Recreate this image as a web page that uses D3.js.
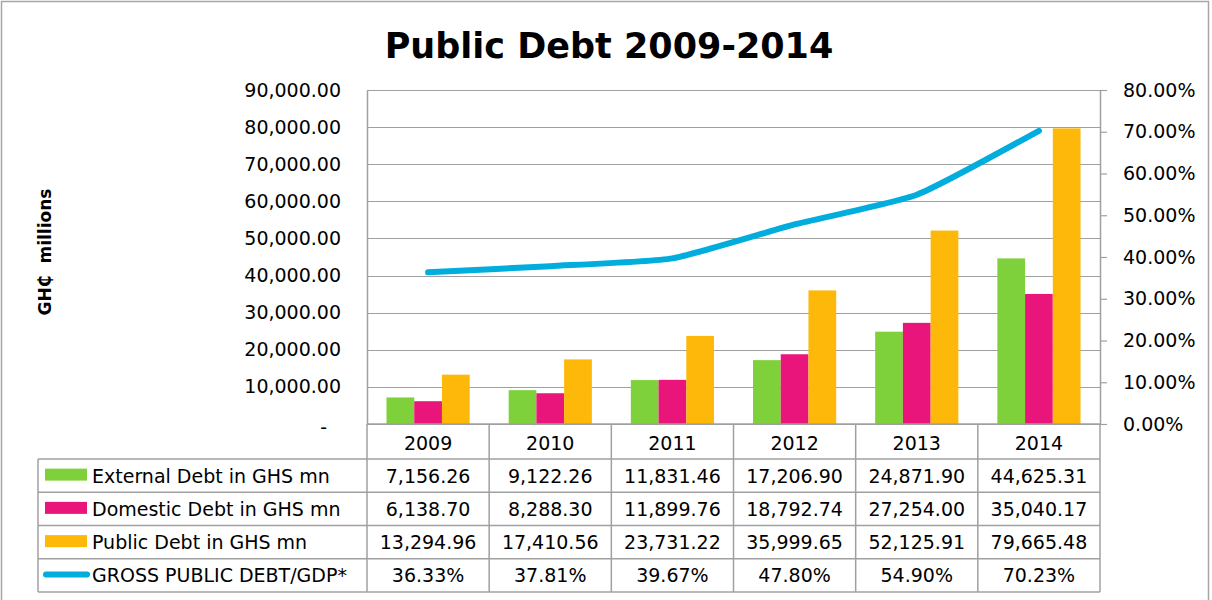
<!DOCTYPE html>
<html>
<head>
<meta charset="utf-8">
<script src="https://cdn.jsdelivr.net/npm/d3@7"></script>
<style>
  body { margin: 0; background: #fff; }
  svg text { font-family: "DejaVu Sans", sans-serif; fill: #000; }
</style>
</head>
<body>
<div id="chart"></div>
<script>
// Chart data
const years = ["2009", "2010", "2011", "2012", "2013", "2014"];
const externalDebt = [7156.26, 9122.26, 11831.46, 17206.90, 24871.90, 44625.31];
const domesticDebt = [6138.70, 8288.30, 11899.76, 18792.74, 27254.00, 35040.17];
const publicDebt = [13294.96, 17410.56, 23731.22, 35999.65, 52125.91, 79665.48];
const debtToGdp = [0.3633, 0.3781, 0.3967, 0.4780, 0.5490, 0.7023];
const seriesNames = ["External Debt in GHS mn", "Domestic Debt in GHS mn", "Public Debt in GHS mn", "GROSS PUBLIC DEBT/GDP*"];
const leftTicks = [0, 10000, 20000, 30000, 40000, 50000, 60000, 70000, 80000, 90000];
const rightTicks = [0, 0.1, 0.2, 0.3, 0.4, 0.5, 0.6, 0.7, 0.8];

const colors = ["#7fd13b", "#ea157a", "#feb80a", "#00addc"];
const gridColor = "#a0a0a0";

// Layout
const width = 1212;
const height = 600;
const plot = { left: 367, right: 1100, top: 90, bottom: 424 };
const table = { left: 38, headerBottom: 459, bottom: 592 };

const svg = d3.select("#chart")
  .append("svg")
  .attr("width", width)
  .attr("height", height);

// Outer frame
svg.append("rect")
  .attr("x", 1.5).attr("y", 1.5)
  .attr("width", 1207).attr("height", 620)
  .attr("fill", "none")
  .attr("stroke", "#a6a6a6")
  .attr("stroke-width", 1.5);

// Scales
const x = d3.scaleBand().domain(years).range([plot.left, plot.right]).padding(0);
const xInner = d3.scaleBand().domain([0, 1, 2]).range([19.5, 102.7]).padding(0);
const y = d3.scaleLinear().domain([0, 90000]).range([plot.bottom, plot.top]);
const y2 = d3.scaleLinear().domain([0, 0.8]).range([plot.bottom, plot.top]);

// Gridlines
svg.append("g")
  .selectAll("line")
  .data(leftTicks)
  .enter()
  .append("line")
  .attr("x1", plot.left)
  .attr("x2", plot.right)
  .attr("y1", d => Math.round(y(d)) + 0.5)
  .attr("y2", d => Math.round(y(d)) + 0.5)
  .attr("stroke", gridColor)
  .attr("stroke-width", 1.2);

// Left axis
const fmtNum = d3.format(",.2f");
const leftAxis = svg.append("g")
  .attr("transform", `translate(${plot.left},0)`)
  .call(d3.axisLeft(y)
    .tickValues(leftTicks)
    .tickSize(0)
    .tickSizeOuter(0)
    .tickPadding(26)
    .tickFormat(d => d === 0 ? "-" : fmtNum(d)));
leftAxis.select(".domain").attr("stroke", gridColor).attr("stroke-width", 1.5);
leftAxis.selectAll("text")
  .attr("font-size", "19px")
  .attr("font-family", "DejaVu Sans")
  .attr("fill", "#000");
leftAxis.selectAll(".tick text").filter(d => d === 0).attr("x", -40).attr("dy", "0.5em");

// Right axis
const rightAxis = svg.append("g")
  .attr("transform", `translate(${plot.right},0)`)
  .call(d3.axisRight(y2)
    .tickValues(rightTicks)
    .tickSize(7)
    .tickSizeOuter(0)
    .tickPadding(16)
    .tickFormat(d3.format(".2%")));
rightAxis.select(".domain").attr("stroke", gridColor).attr("stroke-width", 1.5);
rightAxis.selectAll(".tick line").attr("stroke", gridColor).attr("stroke-width", 1.2);
rightAxis.selectAll("text")
  .attr("font-size", "19px")
  .attr("font-family", "DejaVu Sans")
  .attr("fill", "#000");

// Bars
const barSeries = [externalDebt, domesticDebt, publicDebt];
barSeries.forEach((values, s) => {
  svg.append("g")
    .selectAll("rect")
    .data(values)
    .enter()
    .append("rect")
    .attr("x", (d, i) => x(years[i]) + xInner(s))
    .attr("y", d => y(d))
    .attr("width", xInner.bandwidth())
    .attr("height", d => plot.bottom - y(d))
    .attr("fill", colors[s]);
});

// Debt / GDP line (lightly smoothed)
const line = d3.line()
  .x((d, i) => x(years[i]) + x.bandwidth() / 2)
  .y(d => y2(d))
  .curve(d3.curveCardinal.tension(0.5));

svg.append("path")
  .datum(debtToGdp)
  .attr("d", line)
  .attr("fill", "none")
  .attr("stroke", colors[3])
  .attr("stroke-width", 6)
  .attr("stroke-linecap", "round")
  .attr("stroke-linejoin", "round");

// Data table
const rowH = (table.bottom - table.headerBottom) / seriesNames.length;
const tableLines = svg.append("g").attr("stroke", gridColor).attr("stroke-width", 1.5);

// column separators
d3.range(years.length + 1).forEach(i => {
  const xx = plot.left + i * x.bandwidth();
  tableLines.append("line")
    .attr("x1", xx).attr("x2", xx)
    .attr("y1", plot.bottom).attr("y2", table.bottom);
});
// row separators
d3.range(seriesNames.length + 1).forEach(r => {
  const yy = table.headerBottom + r * rowH;
  tableLines.append("line")
    .attr("x1", table.left).attr("x2", plot.right)
    .attr("y1", yy).attr("y2", yy);
});
tableLines.append("line")
  .attr("x1", table.left).attr("x2", table.left)
  .attr("y1", table.headerBottom).attr("y2", table.bottom);
tableLines.append("line")
  .attr("x1", plot.left).attr("x2", plot.right)
  .attr("y1", plot.bottom).attr("y2", plot.bottom);

// year header
svg.append("g")
  .selectAll("text")
  .data(years)
  .enter()
  .append("text")
  .attr("x", d => x(d) + x.bandwidth() / 2)
  .attr("y", (plot.bottom + table.headerBottom) / 2 + 8)
  .attr("text-anchor", "middle")
  .attr("font-size", "19px")
  .text(d => d);

// table rows
const fmtPct = d3.format(".2%");
const rowValues = [
  externalDebt.map(fmtNum),
  domesticDebt.map(fmtNum),
  publicDebt.map(fmtNum),
  debtToGdp.map(fmtPct)
];

rowValues.forEach((vals, r) => {
  const cy = table.headerBottom + r * rowH + rowH / 2;
  const row = svg.append("g");

  // legend key
  if (r < 3) {
    row.append("rect")
      .attr("x", 45).attr("y", cy - 7)
      .attr("width", 42).attr("height", 12)
      .attr("fill", colors[r]);
  } else {
    row.append("line")
      .attr("x1", 46).attr("x2", 87)
      .attr("y1", cy - 1).attr("y2", cy - 1)
      .attr("stroke", colors[3])
      .attr("stroke-width", 6)
      .attr("stroke-linecap", "round");
  }

  row.append("text")
    .attr("x", 92)
    .attr("y", cy + 7)
    .attr("font-size", "19px")
    .text(seriesNames[r]);

  row.selectAll("text.val")
    .data(vals)
    .enter()
    .append("text")
    .attr("class", "val")
    .attr("x", (d, i) => x(years[i]) + x.bandwidth() / 2)
    .attr("y", cy + 7)
    .attr("text-anchor", "middle")
    .attr("font-size", "19px")
    .text(d => d);
});

// Title
svg.append("text")
  .attr("x", 609)
  .attr("y", 58)
  .attr("text-anchor", "middle")
  .attr("font-size", "35px")
  .attr("font-weight", "bold")
  .text("Public Debt 2009-2014");

// Y axis title
svg.append("text")
  .attr("transform", "translate(51,252) rotate(-90)")
  .attr("text-anchor", "middle")
  .attr("font-size", "17px")
  .attr("font-weight", "bold")
  .attr("xml:space", "preserve")
  .style("white-space", "pre")
  .text("GH\u20B5  millions");
</script>
</body>
</html>
